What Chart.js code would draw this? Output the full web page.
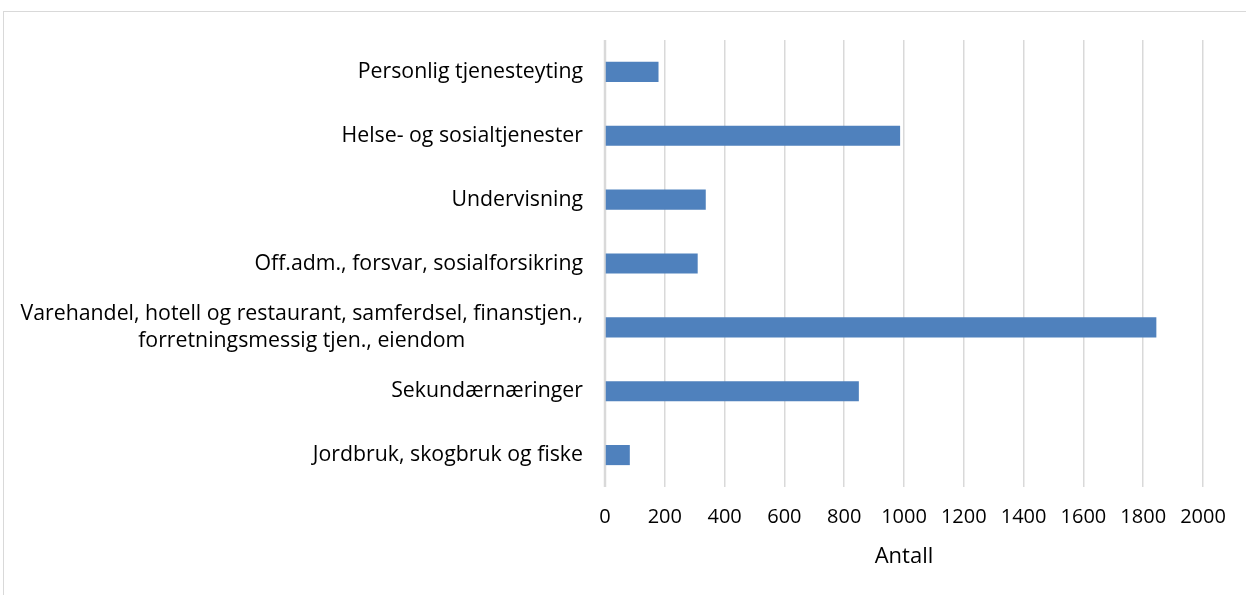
<!DOCTYPE html>
<html>
<head>
<meta charset="utf-8">
<script src="https://cdn.jsdelivr.net/npm/chart.js@4/dist/chart.umd.min.js"></script>
<style>
  html, body { margin: 0; padding: 0; background: #fff; }
  #wrap { position: relative; width: 1246px; height: 595px; overflow: hidden; }
  #frame { position: absolute; left: 3px; top: 11px; width: 1260px; height: 600px; border: 1px solid #d9d9d9; box-sizing: border-box; }
  canvas { position: absolute; left: 0; top: 0; }
</style>
</head>
<body>
<div id="wrap">
  <div id="frame"></div>
  <canvas id="c" width="1246" height="595"></canvas>
</div>
<script>
const categories = [
  ["Personlig tjenesteyting"],
  ["Helse- og sosialtjenester"],
  ["Undervisning"],
  ["Off.adm., forsvar, sosialforsikring"],
  ["Varehandel, hotell og restaurant, samferdsel, finanstjen.,", "forretningsmessig tjen., eiendom"],
  ["Sekundærnæringer"],
  ["Jordbruk, skogbruk og fiske"]
];
const values = [179, 987, 337, 310, 1844, 849, 83];
const xTicks = [0, 200, 400, 600, 800, 1000, 1200, 1400, 1600, 1800, 2000];
const xTitle = "Antall";

const FONT = "'Open Sans', 'Liberation Sans', sans-serif";

const labelPlugin = {
  id: 'blockLabels',
  afterDraw(chart) {
    const ctx = chart.ctx;
    const y = chart.scales.y;
    ctx.save();
    ctx.font = "21.3px " + FONT;
    ctx.fillStyle = "#000000";
    ctx.textBaseline = "middle";
    ctx.textAlign = "center";
    const lh = 27;
    categories.forEach((lines, i) => {
      const cy = y.getPixelForTick(i);
      const w = Math.max(...lines.map(l => ctx.measureText(l).width));
      const cx = 583 - w / 2;
      const top = cy - (lines.length - 1) * lh / 2;
      lines.forEach((l, k) => ctx.fillText(l, cx, top + k * lh));
    });
    ctx.restore();
  }
};

new Chart(document.getElementById('c'), {
  type: 'bar',
  data: {
    labels: categories,
    datasets: [{
      data: values,
      backgroundColor: '#4f81bd',
      borderWidth: 0,
      categoryPercentage: 1,
      barPercentage: 0.315
    }]
  },
  options: {
    indexAxis: 'y',
    responsive: false,
    animation: false,
    devicePixelRatio: 1,
    layout: { padding: { left: 0, right: 43, top: 40, bottom: 0 } },
    plugins: { legend: { display: false }, tooltip: { enabled: false } },
    scales: {
      y: {
        grid: { display: false, drawTicks: false },
        border: { display: false },
        ticks: { display: true, color: 'rgba(0,0,0,0)', font: { size: 17, family: FONT } },
        afterFit(scale) { scale.width = 605; }
      },
      x: {
        min: 0, max: 2000,
        afterBuildTicks(scale) { scale.ticks = xTicks.map(v => ({ value: v })); },
        grid: { color: '#d9d9d9', lineWidth: 1.5, drawTicks: false },
        border: { display: false },
        ticks: {
          padding: 18,
          color: '#000000',
          font: { size: 20, family: FONT },
          maxRotation: 0,
          autoSkip: false,
          callback: (v) => String(v)
        },
        title: {
          display: true,
          text: xTitle,
          color: '#000000',
          font: { size: 22, family: FONT },
          padding: { top: 4, bottom: 25 }
        },
        afterFit(scale) { scale.height = 108; }
      }
    }
  },
  plugins: [labelPlugin, {
    id: 'zeroLine',
    beforeDatasetsDraw(chart) {
      const x = chart.scales.x.getPixelForValue(0);
      const a = chart.chartArea;
      const ctx = chart.ctx;
      ctx.save();
      ctx.strokeStyle = '#d9d9d9';
      ctx.lineWidth = 2.5;
      ctx.beginPath();
      ctx.moveTo(x, a.top);
      ctx.lineTo(x, a.bottom);
      ctx.stroke();
      ctx.restore();
    }
  }]
});
</script>
</body>
</html>
